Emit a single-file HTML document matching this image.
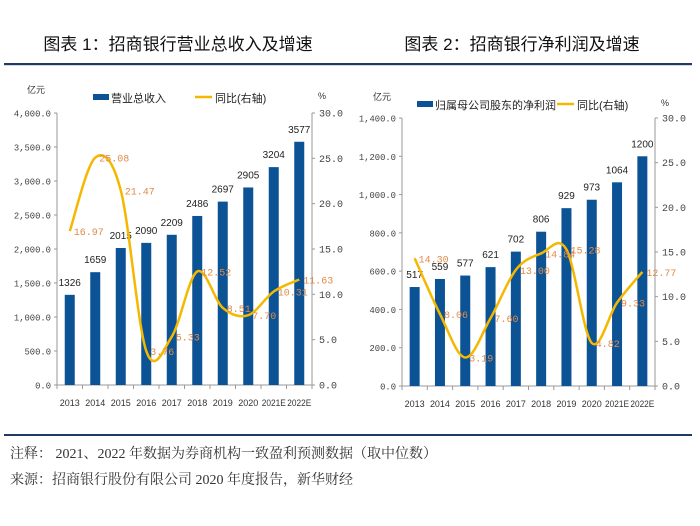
<!DOCTYPE html>
<html><head><meta charset="utf-8">
<style>
html,body{margin:0;padding:0;background:#fff;}
body{width:700px;height:526px;overflow:hidden;position:relative;font-family:"Liberation Sans","Noto Sans CJK SC",sans-serif;}
svg{position:absolute;left:0;top:0;}
</style></head>
<body>
<svg id="s" width="700" height="526" xmlns="http://www.w3.org/2000/svg"></svg>
<script>
const years = ["2013","2014","2015","2016","2017","2018","2019","2020","2021E","2022E"];
const revenue = [1326,1659,2015,2090,2209,2486,2697,2905,3204,3577];
const revenueGrowth = [16.97,25.08,21.47,3.76,5.33,12.52,8.51,7.70,10.31,11.63];
const profit = [517,559,577,621,702,806,929,973,1064,1200];
const profitGrowth = [14.30,8.06,3.19,7.60,13.00,14.84,15.28,4.82,9.33,12.77];
const leftTicks1 = [0,500,1000,1500,2000,2500,3000,3500,4000];
const leftTicks2 = [0,200,400,600,800,1000,1200,1400];
const rightTicks = [0,5,10,15,20,25,30];

const NS="http://www.w3.org/2000/svg";
const svg=document.getElementById('s');
function mk(tag,attrs,parent,text){const e=document.createElementNS(NS,tag);for(const k in attrs)e.setAttribute(k,attrs[k]);if(text!==undefined)e.textContent=text;(parent||svg).appendChild(e);return e;}
const FONT='"Liberation Sans","Noto Sans CJK SC",sans-serif';
function fmt(v){return v.toLocaleString('en-US',{minimumFractionDigits:1,maximumFractionDigits:1});}

function chart(cfg){
  const g=mk('g',{});
  
  
  const {x0,x1,yTop,yBot,lmax,rmax}=cfg;
  const n=years.length, step=(x1-x0)/n;
  const xc=i=>x0+step*(i+0.5);
  const yl=v=>yBot-(v/lmax)*(yBot-yTop);
  const yr=v=>yBot-(v/rmax)*(yBot-yTop);
  let t=mk('text',{x:cfg.titleX,y:50,'text-anchor':'middle','font-size':17,'font-weight':'normal',fill:'#111','font-family':FONT},g,cfg.title);
  
  let r=mk('rect',{x:cfg.ruleX0,y:63,width:cfg.ruleX1-cfg.ruleX0,height:2.2,fill:'#1f3b63'},g);
  
  let la=mk('g',{},g);
  mk('line',{x1:x0,y1:yTop,x2:x0,y2:yBot,stroke:'#999','stroke-width':1},la);
  cfg.lt.forEach(v=>{mk('line',{x1:x0-3,y1:yl(v),x2:x0,y2:yl(v),stroke:'#999'},la);
    const s=fmt(v);
    mk('text',{x:x0-6,y:yl(v)+3.5,'text-anchor':'end','font-size':9.5,fill:'#444','font-family':'"Liberation Mono",monospace',textLength:s.length*5.3,lengthAdjust:'spacingAndGlyphs'},la,s);});
  let ra=mk('g',{},g);
  mk('line',{x1:x1,y1:yTop,x2:x1,y2:yBot,stroke:'#999'},ra);
  rightTicks.forEach(v=>{mk('line',{x1:x1,y1:yr(v),x2:x1+3,y2:yr(v),stroke:'#999'},ra);
    mk('text',{x:x1+7,y:yr(v)+3.5,'font-size':10,fill:'#444','font-family':'"Liberation Mono",monospace'},ra,v.toFixed(1));});
  let xa=mk('g',{},g);
  mk('line',{x1:x0,y1:yBot,x2:x1,y2:yBot,stroke:'#999'},xa);
  for(let i=0;i<=n;i++)mk('line',{x1:x0+step*i,y1:yBot,x2:x0+step*i,y2:yBot+4,stroke:'#999'},xa);
  years.forEach((y,i)=>mk('text',{x:xc(i),y:yBot+21,'text-anchor':'middle','font-size':9.5,fill:'#333','font-family':FONT,textLength:y.length>4?24:20,lengthAdjust:'spacingAndGlyphs'},xa,y));
  mk('text',{x:cfg.unitX,y:cfg.unitY,'font-size':9,fill:'#333','font-family':FONT},g,'亿元');
  mk('text',{x:x1+6,y:cfg.unitY+6,'font-size':9,fill:'#333','font-family':FONT},g,'%');
  cfg.bars.forEach((v,i)=>{
    const b=mk('rect',{x:xc(i)-5,y:yl(v),width:10,height:yBot-yl(v),fill:'#0b5394'},g);
    
    mk('text',{x:xc(i),y:yl(v)-9,'text-anchor':'middle','font-size':10,fill:'#222','font-family':FONT},g,String(v));
  });
  const pts=cfg.line.map((v,i)=>[xc(i),yr(v)]);
  let d='M'+pts[0][0]+','+pts[0][1];
  for(let i=0;i<pts.length-1;i++){
    const p0=pts[i-1]||pts[i],p1=pts[i],p2=pts[i+1],p3=pts[i+2]||p2;
    const c1=[p1[0]+(p2[0]-p0[0])/6,p1[1]+(p2[1]-p0[1])/6],c2=[p2[0]-(p3[0]-p1[0])/6,p2[1]-(p3[1]-p1[1])/6];
    d+=' C'+c1+' '+c2+' '+p2;
  }
  const ln=mk('path',{d:d,fill:'none',stroke:'#f5b800','stroke-width':2.5},g);
  
  cfg.line.forEach((v,i)=>mk('text',{x:xc(i)+4,y:yr(v)+4,'font-size':10,fill:'#e08a4a','font-family':'"Liberation Mono",monospace'},g,v.toFixed(2)));
  let lg=mk('g',{},g);
  mk('rect',{x:cfg.lgX,y:cfg.lgY-4,width:16,height:6,fill:'#0b5394'},lg);
  mk('text',{x:cfg.lgX+18,y:cfg.lgY+4,'font-size':11,fill:'#222','font-family':FONT},lg,cfg.barName);
  mk('line',{x1:cfg.lgX2,y1:cfg.lgY-1,x2:cfg.lgX2+17,y2:cfg.lgY-1,stroke:'#f5b800','stroke-width':2.5},lg);
  mk('text',{x:cfg.lgX2+20,y:cfg.lgY+4,'font-size':11,fill:'#222','font-family':FONT},lg,'同比(右轴)');
}
chart({name:'revenue-chart',title:'图表 1：招商银行营业总收入及增速',titleX:178,ruleX0:4,ruleX1:350,
  x0:57,x1:312,yTop:113,yBot:385,lmax:4000,rmax:30,lt:leftTicks1,bars:revenue,line:revenueGrowth,
  unitX:27,unitY:93,lgX:93,lgX2:195,lgY:98,barName:'营业总收入'});
chart({name:'profit-chart',title:'图表 2：招商银行净利润及增速',titleX:522,ruleX0:350,ruleX1:692,
  x0:402,x1:655,yTop:118,yBot:386,lmax:1400,rmax:30,lt:leftTicks2,bars:profit,line:profitGrowth,
  unitX:373,unitY:100,lgX:417,lgX2:557,lgY:105,barName:'归属母公司股东的净利润'});
let br=mk('rect',{x:4,y:434,width:688,height:2,fill:'#1f3b63'});

let n1=mk('text',{x:10,y:458,'font-size':14,fill:'#333','font-family':'"Liberation Serif","Noto Serif CJK SC",serif'},svg,'注释： 2021、2022 年数据为券商机构一致盈利预测数据（取中位数）');

let n2=mk('text',{x:10,y:484,'font-size':14,fill:'#333','font-family':'"Liberation Serif","Noto Serif CJK SC",serif'},svg,'来源：招商银行股份有限公司 2020 年度报告，新华财经');

</script>
</body></html>
